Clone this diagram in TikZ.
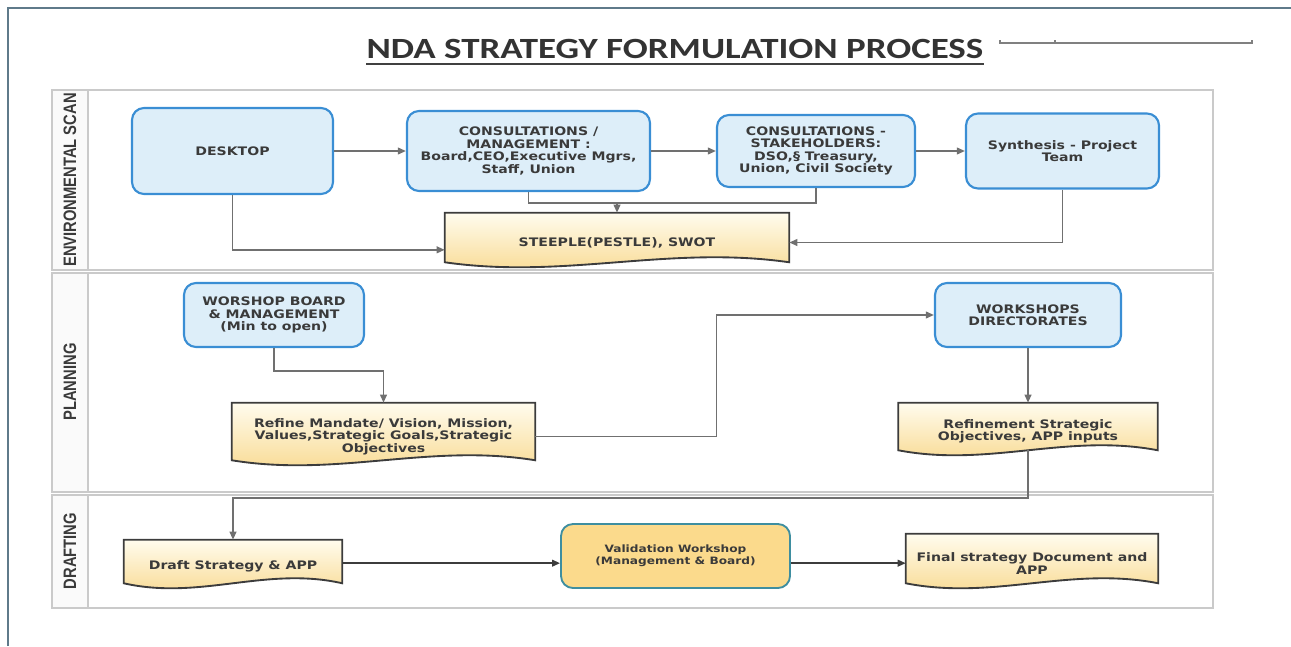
\documentclass[tikz,border=0pt]{standalone}
\usepackage{fontspec}
\setmainfont[FakeStretch=1.2]{DejaVu Sans}
\newfontfamily\titlefont[FakeStretch=1.26]{Carlito}
\newfontfamily\lanefont[FakeStretch=0.82]{Liberation Sans}
\usetikzlibrary{calc,arrows.meta}

\definecolor{boxblue}{HTML}{DDEEF9}
\definecolor{lineblue}{HTML}{3A8ED4}
\definecolor{docdark}{HTML}{3C3C3C}
\definecolor{doctop}{HTML}{FFFCEE}
\definecolor{docbot}{HTML}{F8D78A}
\definecolor{valfill}{HTML}{FBDA8C}
\definecolor{valline}{HTML}{3E8EA0}
\definecolor{flowgray}{HTML}{707070}
\definecolor{lanegray}{HTML}{CACACA}
\definecolor{txtgray}{HTML}{3A3A3A}
\definecolor{framegray}{HTML}{5F7A8A}

\pgfdeclarelayer{lanes}
\pgfdeclarelayer{shapes}
\pgfsetlayers{lanes,shapes,main}

% document shape with a wavy bottom, drawn behind the named node
\newcommand{\docshape}[1]{%
  \coordinate (#1top) at ($(#1.north)+(0,7.5pt)$);
  \begin{pgfonlayer}{shapes}
    \shadedraw[top color=doctop, bottom color=docbot, draw=docdark, line width=1.4pt]
      ($(#1.north west)+(0,7.5pt)$) -- ($(#1.north east)+(0,7.5pt)$) -- (#1.south east)
      .. controls ($(#1.south east)!0.35!(#1.south west)+(0,13pt)$) and ($(#1.south east)!0.65!(#1.south west)+(0,-13pt)$) .. (#1.south west) -- cycle;
  \end{pgfonlayer}}

\begin{document}
\begin{tikzpicture}[x=0.75pt, y=-0.75pt,
    every node/.style={font=\fontsize{8.8}{9.4}\selectfont\bfseries, text=txtgray, align=center, inner sep=0pt},
    wh/.style 2 args={minimum width=#1*0.75pt, minimum height=#2*0.75pt},
    procbox/.style={rectangle, rounded corners=9pt, draw=lineblue, line width=1.6pt, fill=boxblue},
    docbox/.style={rectangle},
    valbox/.style={rectangle, rounded corners=9pt, draw=valline, line width=1.4pt, fill=valfill},
    flow/.style={draw=flowgray, line width=1.3pt, -{Triangle[length=6pt,width=5pt]}},
    flowline/.style={draw=flowgray, line width=1.3pt},
    darkflow/.style={draw=docdark, line width=1.3pt, -{Triangle[length=6pt,width=5pt]}},
    lane/.style={draw=lanegray, line width=1pt},
    lanelabel/.style={rotate=90, font=\lanefont\bfseries\fontsize{13.5}{13.5}\selectfont, text=txtgray}]
  \useasboundingbox (0,0) rectangle (1291,646);

  % frame and title
  \draw[framegray, line width=1.5pt] (8,646) -- (8,8) -- (1291,8);
  \node[font=\titlefont\bfseries\fontsize{22}{22}\selectfont, text=black!80] (title) at (675,49) {NDA STRATEGY FORMULATION PROCESS};
  \draw[black!75, line width=1.3pt] ($(title.base west)+(0,-4pt)$) -- ($(title.base east)+(0,-4pt)$);
  \draw[gray, line width=0.8pt] (1000,40) -- (1000,43) -- (1252,43) -- (1252,40);
  \draw[gray, line width=0.8pt] (1055,40) -- (1055,43);

  % swimlanes
  \begin{pgfonlayer}{lanes}
    \foreach \top/\bot in {90/270, 273/492, 495/608} {
      \filldraw[lane, fill=gray!4] (52,\top) rectangle (88,\bot);
      \draw[lane] (88,\top) rectangle (1213,\bot);
    }
  \end{pgfonlayer}
  \node[lanelabel] (envlab) at (70,180) {ENVIRONMENTAL SCAN};
  \node[lanelabel] (planlab) at (70,382) {PLANNING};
  \node[lanelabel] (draftlab) at (70,551) {DRAFTING};

  % environmental scan
  \node[procbox, wh={201}{86}] (desktop) at (232.5,151) {DESKTOP};
  \node[procbox, wh={243}{80}] (mgmt) at (528.5,151) {CONSULTATIONS /\\MANAGEMENT :\\Board,CEO,Executive Mgrs,\\Staff, Union};
  \node[procbox, wh={198}{72}] (stake) at (816,151) {CONSULTATIONS -\\STAKEHOLDERS:\\DSO,§ Treasury,\\Union, Civil Society};
  \node[procbox, wh={193}{75}] (synth) at (1062.5,151) {Synthesis - Project\\Team};
  \node[docbox, wh={344}{39}] (steeple) at (617,242.5) {STEEPLE(PESTLE), SWOT};
  \docshape{steeple}
  \coordinate (join) at (617,203);

  \draw[flow] (desktop) -- (mgmt);
  \draw[flow] (mgmt) -- (stake);
  \draw[flow] (stake) -- (synth);
  \draw[flow] (desktop.south) |- ($(steeple.west)+(0,-5.5pt)$);
  \draw[flowline] (mgmt.south) |- (join);
  \draw[flowline] (stake.south) |- (join);
  \draw[flow] (join) -- (steepletop);
  \draw[flow] (synth.south) |- (steeple.east);

  % planning
  \node[procbox, wh={180}{64}] (worshop) at (274,315) {WORSHOP BOARD\\\& MANAGEMENT\\(Min to open)};
  \node[docbox, wh={303}{47}] (refine) at (383.5,436.5) {Refine Mandate/ Vision, Mission,\\Values,Strategic Goals,Strategic\\Objectives};
  \docshape{refine}
  \node[procbox, wh={186}{64}] (wsdir) at (1028,315) {WORKSHOPS\\DIRECTORATES};
  \node[docbox, wh={259}{37}] (refinement) at (1028,431.5) {Refinement Strategic\\Objectives, APP inputs};
  \docshape{refinement}

  \draw[flow] (worshop.south) -- ++(0,-17pt) -| (refinetop);
  \draw[flow] (refine.east) -- ++(136pt,0) |- (wsdir.west);
  \draw[flow] (wsdir) -- (refinementtop);

  % drafting
  \node[docbox, wh={218}{33}] (draft) at (233,566.5) {Draft Strategy \& APP};
  \docshape{draft}
  \node[valbox, wh={229}{64}, font=\fontsize{7.6}{9}\selectfont\bfseries] (valid) at (675.5,556) {Validation Workshop\\(Management \& Board)};
  \node[docbox, wh={252}{39}] (final) at (1032,563.5) {Final strategy Document and\\APP};
  \docshape{final}
  \coordinate (mid) at ($(draft.east)+(0,2.5pt)$);

  \draw[flow] (refinement.south) -- ++(0,-36pt) -| (drafttop);
  \draw[darkflow] (mid) -- (mid -| valid.west);
  \draw[darkflow] (mid -| valid.east) -- (mid -| final.west);
\end{tikzpicture}
\end{document}
